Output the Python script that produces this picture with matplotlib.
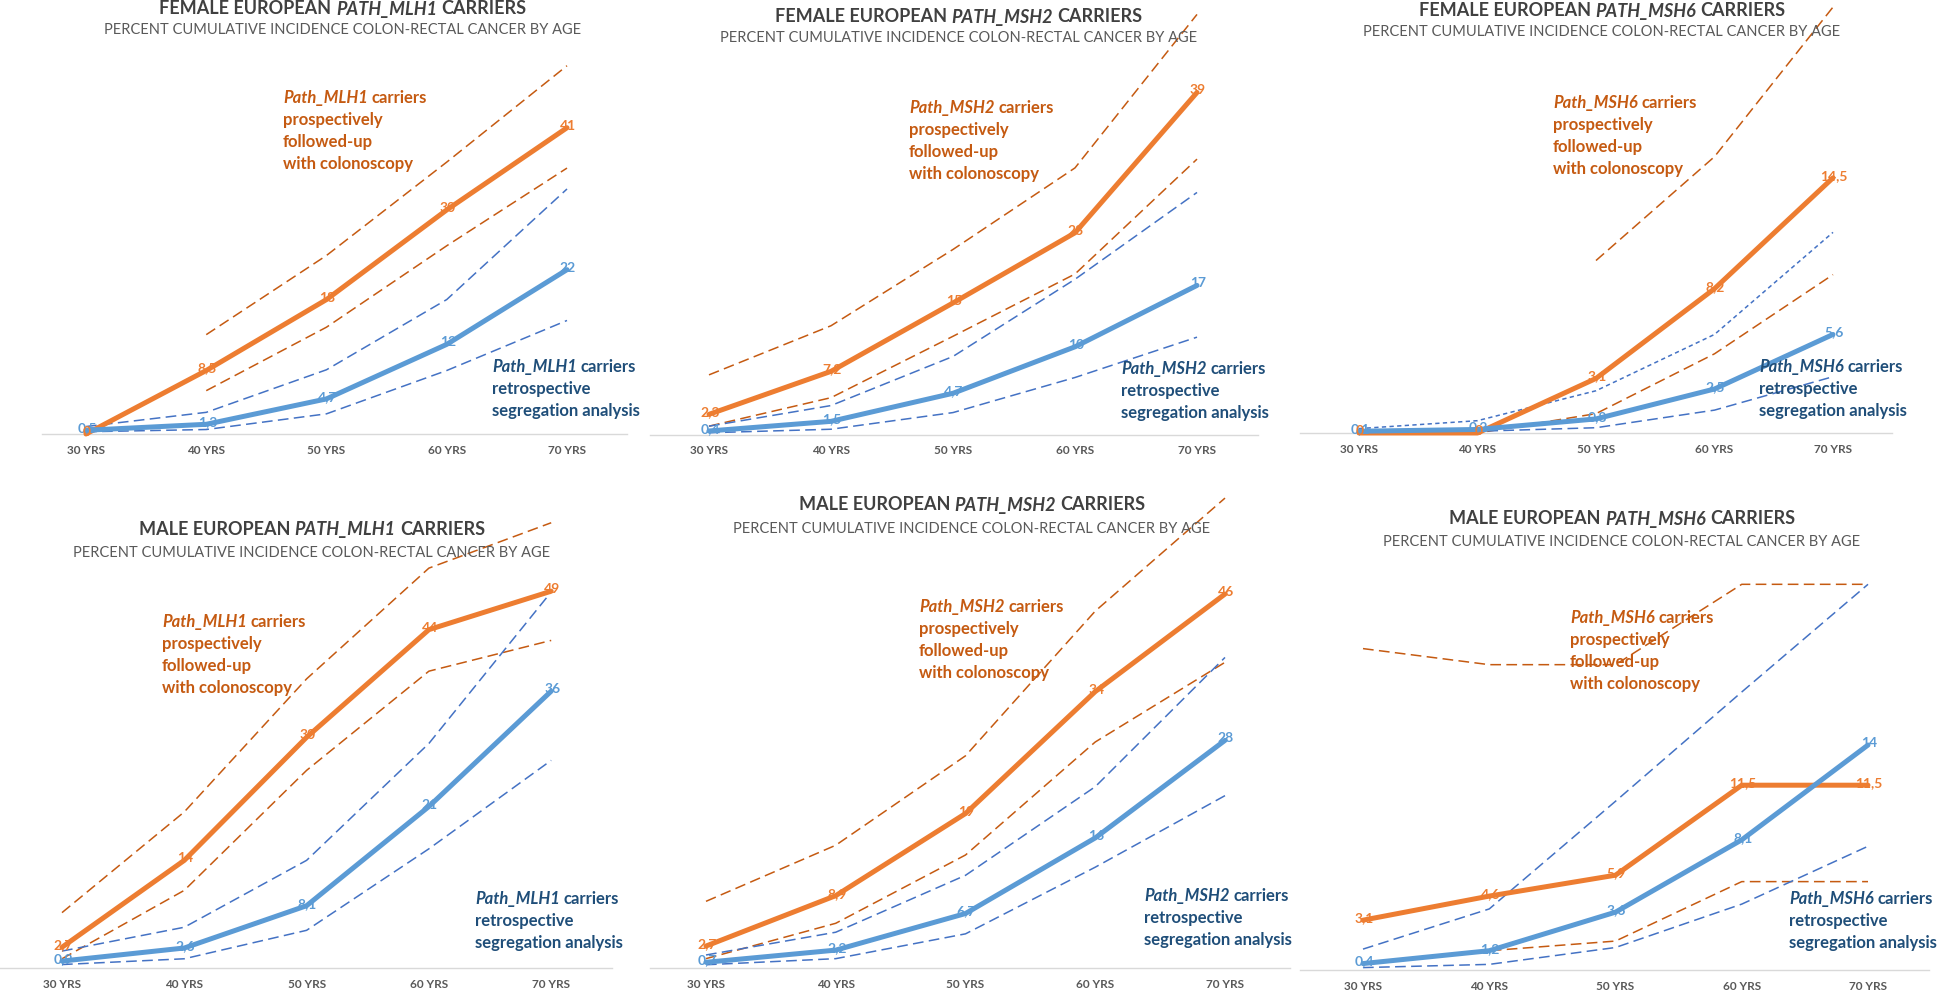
import numpy as np
import matplotlib
matplotlib.use("Agg")
import matplotlib.pyplot as plt
from matplotlib.transforms import Bbox, TransformedBbox

plt.rcParams['font.family'] = ['Lato', 'DejaVu Sans']

W, H = 1944, 995

ages = ["30 YRS", "40 YRS", "50 YRS", "60 YRS", "70 YRS"]
subtitle = "PERCENT CUMULATIVE INCIDENCE COLON-RECTAL CANCER BY AGE"
nan = np.nan

# female MLH1
f_mlh1_pro = [0, 8.5, 18, 30, 41]
f_mlh1_pro_hi = [nan, 13.3, 23.9, 36.4, 49.3]
f_mlh1_pro_lo = [nan, 5.8, 14.3, 25.2, 35.6]
f_mlh1_ret = [0.5, 1.3, 4.7, 12, 22]
f_mlh1_ret_hi = [1.0, 2.9, 8.6, 18.0, 32.8]
f_mlh1_ret_lo = [0.3, 0.6, 2.7, 8.5, 15.2]

# female MSH2
f_msh2_pro = [2.3, 7.2, 15, 23, 39]
f_msh2_pro_hi = [6.8, 12.4, 21.1, 30.4, 47.9]
f_msh2_pro_lo = [0.95, 4.2, 11.2, 18.3, 31.4]
f_msh2_ret = [0.4, 1.5, 4.7, 10, 17]
f_msh2_ret_hi = [0.95, 3.3, 8.9, 17.7, 27.6]
f_msh2_ret_lo = [0.2, 0.6, 2.5, 6.5, 11.1]

# female MSH6
f_msh6_pro = [0, 0, 3.1, 8.2, 14.5]
f_msh6_pro_hi = [nan, nan, 9.8, 15.7, 24.2]
f_msh6_pro_lo = [0, 0, 1.1, 4.5, 9.0]
f_msh6_ret = [0.1, 0.2, 0.8, 2.5, 5.6]
f_msh6_ret_hi = [0.25, 0.7, 2.4, 5.6, 11.4]
f_msh6_ret_lo = [0.05, 0.1, 0.3, 1.3, 3.2]

# male MLH1
m_mlh1_pro = [2.7, 14, 30, 44, 49]
m_mlh1_pro_hi = [7.2, 20.3, 37.6, 52.0, 57.9]
m_mlh1_pro_lo = [1.2, 10.1, 25.7, 38.6, 42.6]
m_mlh1_ret = [0.9, 2.6, 8.1, 21, 36]
m_mlh1_ret_hi = [2.2, 5.3, 14.0, 29.2, 48.9]
m_mlh1_ret_lo = [0.45, 1.2, 4.9, 15.5, 27.0]

# male MSH2
m_msh2_pro = [2.7, 8.9, 19, 34, 46]
m_msh2_pro_hi = [8.2, 15.1, 26.1, 43.9, 57.8]
m_msh2_pro_lo = [1.15, 5.5, 13.9, 27.8, 37.6]
m_msh2_ret = [0.7, 2.2, 6.7, 16, 28]
m_msh2_ret_hi = [1.6, 4.4, 11.4, 22.3, 38.2]
m_msh2_ret_lo = [0.4, 1.15, 4.2, 12.4, 21.2]

# male MSH6
m_msh6_pro = [3.1, 4.6, 5.9, 11.5, 11.5]
m_msh6_pro_hi = [20.0, 19.0, 19.0, 24.0, 24.0]
m_msh6_pro_lo = [0.45, 1.2, 1.8, 5.5, 5.5]
m_msh6_ret = [0.4, 1.2, 3.6, 8.1, 14]
m_msh6_ret_hi = [1.3, 3.8, 10.5, 17.3, 24.0]
m_msh6_ret_lo = [0.15, 0.35, 1.4, 4.1, 7.7]

ORANGE = "#ED7D31"
BLUE = "#5B9BD5"
ORANGE_D = "#C55A11"
BLUE_D = "#4472C4"
TXT_OR = "#C55A11"
TXT_BL = "#1F4E79"

# geometry in pixels of the picture (y goes down)
panels = [
    dict(sex="FEMALE", gene="MLH1", d=(f_mlh1_pro, f_mlh1_pro_hi, f_mlh1_pro_lo, f_mlh1_ret, f_mlh1_ret_hi, f_mlh1_ret_lo),
         x0=86, dx=120.25, base=435, k=7.47, L=42, R=627, top=0,
         tx=343, ty=9, sy=30, ox=283, oy=98, bx=492, by=367),
    dict(sex="FEMALE", gene="MSH2", d=(f_msh2_pro, f_msh2_pro_hi, f_msh2_pro_lo, f_msh2_ret, f_msh2_ret_hi, f_msh2_ret_lo),
         x0=709, dx=122, base=435.5, k=8.77, L=650, R=1258, top=0,
         tx=959, ty=17, sy=38, ox=909, oy=108, bx=1121, by=369),
    dict(sex="FEMALE", gene="MSH6", d=(f_msh6_pro, f_msh6_pro_hi, f_msh6_pro_lo, f_msh6_ret, f_msh6_ret_hi, f_msh6_ret_lo),
         x0=1359, dx=118.5, base=434, k=17.6, L=1300, R=1892, top=0,
         tx=1602, ty=11, sy=32, ox=1553, oy=103, bx=1759, by=367, short=True),
    dict(sex="MALE", gene="MLH1", d=(m_mlh1_pro, m_mlh1_pro_hi, m_mlh1_pro_lo, m_mlh1_ret, m_mlh1_ret_hi, m_mlh1_ret_lo),
         x0=62, dx=122.3, base=969, k=7.69, L=0, R=612, top=490,
         tx=312, ty=530, sy=553, ox=162, oy=622, bx=475, by=899),
    dict(sex="MALE", gene="MSH2", d=(m_msh2_pro, m_msh2_pro_hi, m_msh2_pro_lo, m_msh2_ret, m_msh2_ret_hi, m_msh2_ret_lo),
         x0=706, dx=129.75, base=969, k=8.13, L=650, R=1290, top=490,
         tx=972, ty=505, sy=529, ox=919, oy=607, bx=1144, by=896, clip=1298),
    dict(sex="MALE", gene="MSH6", d=(m_msh6_pro, m_msh6_pro_hi, m_msh6_pro_lo, m_msh6_ret, m_msh6_ret_hi, m_msh6_ret_lo),
         x0=1363, dx=126.25, base=971, k=16.07, L=1300, R=1929, top=490,
         tx=1622, ty=519, sy=542, ox=1570, oy=618, bx=1789, by=899),
]

fig = plt.figure(figsize=(W / 100, H / 100), dpi=100)
fig.patch.set_facecolor("white")
renderer = fig.canvas.get_renderer()


def fmt(v):
    return f"{v:g}".replace(".", ",")


def rich(x, y, parts, size, color, ha="center", weight="bold"):
    # draws pieces of text side by side, some of them italic
    objs = []
    for s, it in parts:
        t = fig.text(0, 1 - y / H, s, fontsize=size, fontweight=weight,
                     style="italic" if it else "normal", color=color,
                     va="center", ha="left")
        objs.append(t)
    widths = [t.get_window_extent(renderer).width for t in objs]
    space = size * 100 / 72 * 0.24
    total = sum(widths) + space * (len(objs) - 1)
    start = x - total / 2 if ha == "center" else x
    for t, w in zip(objs, widths):
        t.set_x(start / W)
        start += w + space
    return objs


x = np.arange(len(ages))
for p in panels:
    pro, pro_hi, pro_lo, ret, ret_hi, ret_lo = [np.array(a, dtype=float) for a in p["d"]]
    L, R, top, base = p["L"], p["R"], p["top"], p["base"]
    ax = fig.add_axes([L / W, 1 - base / H, (R - L) / W, (base - top) / H])
    ax.patch.set_visible(False)
    ax.set_xlim((L - p["x0"]) / p["dx"], (R - p["x0"]) / p["dx"])
    ax.set_ylim(0, (base - top) / p["k"])
    for s in ["top", "right", "left"]:
        ax.spines[s].set_visible(False)
    ax.spines["bottom"].set_color("#D9D9D9")
    ax.spines["bottom"].set_linewidth(1)
    ax.set_yticks([])
    ax.set_xticks(x)
    ax.set_xticklabels(ages, fontsize=8.5, fontweight="bold", color="#595959")
    ax.tick_params(axis="x", length=0, pad=7)

    hi_dash = (2.8, 2.2) if p.get("short") else (7, 3.5)
    ax.plot(x, pro_hi, color=ORANGE_D, lw=1.1, dashes=(7, 3.5), clip_on=False, zorder=2)
    ax.plot(x, pro_lo, color=ORANGE_D, lw=1.1, dashes=(7, 3.5), clip_on=False, zorder=2)
    ax.plot(x, ret_hi, color=BLUE_D, lw=1.1, dashes=hi_dash, clip_on=False, zorder=2)
    ax.plot(x, ret_lo, color=BLUE_D, lw=1.1, dashes=(7, 3.5), clip_on=False, zorder=2)
    ax.plot(x, pro, color=ORANGE, lw=3.6, solid_capstyle="round", clip_on=False, zorder=3)
    ax.plot(x, ret, color=BLUE, lw=3.6, solid_capstyle="round", clip_on=False, zorder=3)

    for vals, col in [(ret, BLUE), (pro, ORANGE)]:
        for i, v in enumerate(vals):
            ax.annotate(fmt(v), (i, v), xytext=(1, 3), textcoords="offset pixels",
                        ha="center", va="center", fontsize=10,
                        fontweight="bold", color=col, zorder=5, annotation_clip=False)

    gene = "PATH_" + p["gene"]
    rich(p["tx"], p["ty"], [(p["sex"] + " EUROPEAN", False), (gene, True), ("CARRIERS", False)],
         13, "#404040")
    fig.text(p["tx"] / W, 1 - p["sy"] / H, subtitle, fontsize=10.5, color="#595959",
             ha="center", va="center")

    step = 22
    lab = "Path_" + p["gene"]
    orange_lines = [[(lab, True), ("carriers", False)], [("prospectively", False)],
                    [("followed-up", False)], [("with colonoscopy", False)]]
    for j, parts in enumerate(orange_lines):
        rich(p["ox"], p["oy"] + j * step, parts, 12, TXT_OR, ha="left")
    blue_lines = [[(lab, True), ("carriers", False)], [("retrospective", False)],
                  [("segregation analysis", False)]]
    for j, parts in enumerate(blue_lines):
        objs = rich(p["bx"], p["by"] + j * step, parts, 12, TXT_BL, ha="left")
        if p.get("clip"):
            box = TransformedBbox(Bbox([[0, 0], [p["clip"] / W, 1]]), fig.transFigure)
            for t in objs:
                t.set_clip_box(box)
                t.set_clip_on(True)

fig.savefig("out.png", dpi=100, facecolor="white")
